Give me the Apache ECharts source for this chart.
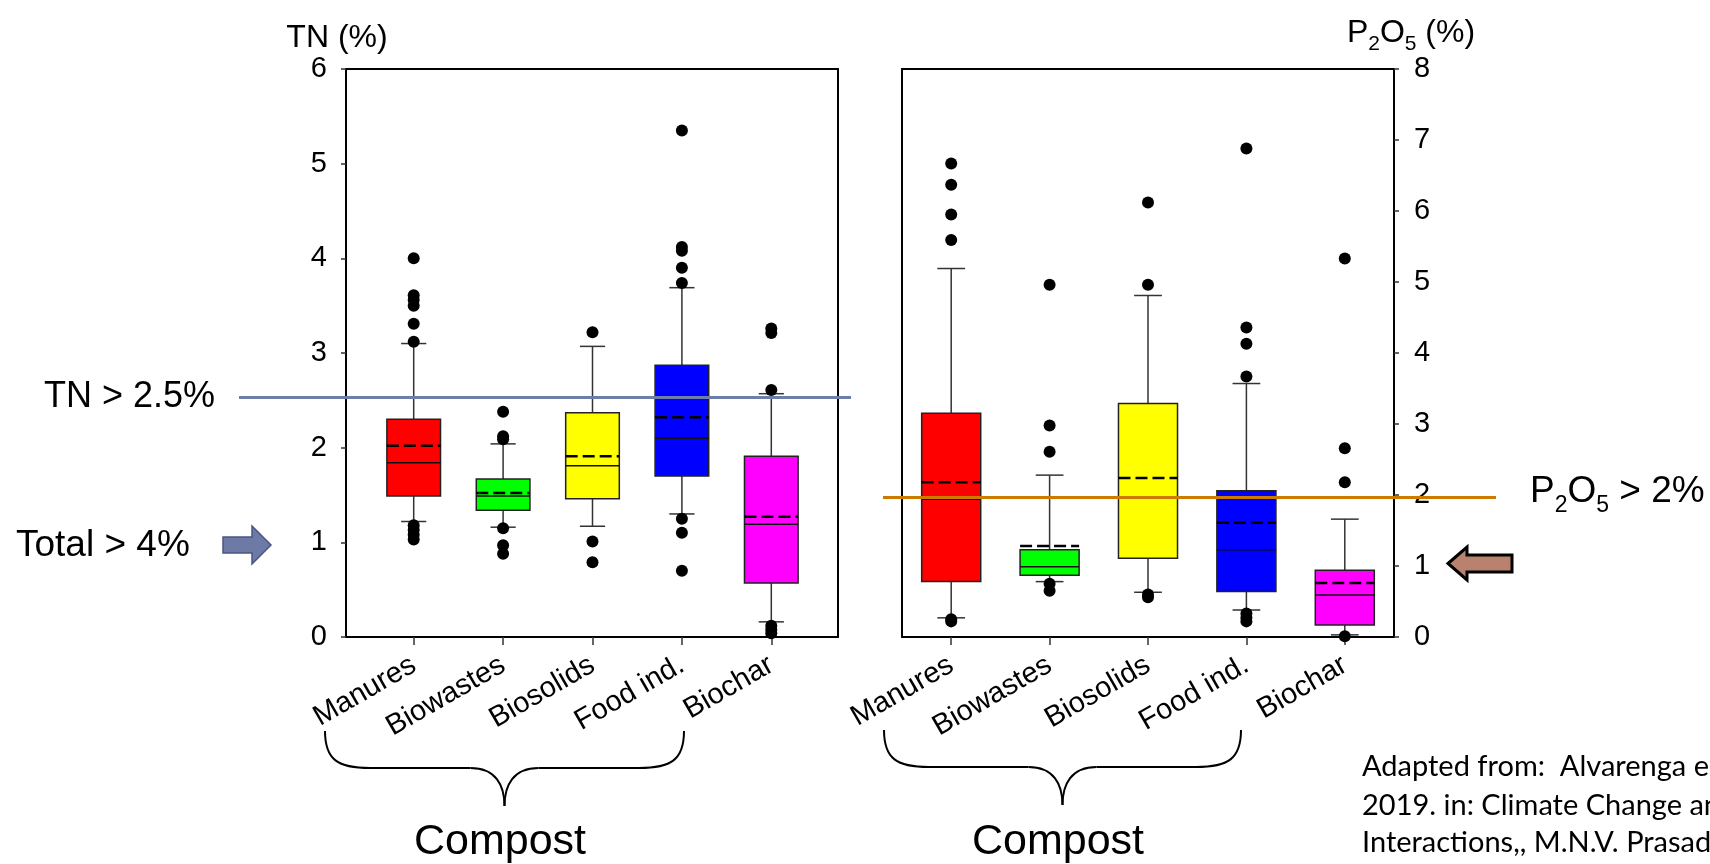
<!DOCTYPE html>
<html>
<head>
<meta charset="utf-8">
<title>TN and P2O5 in composts and biochar</title>
<script src="https://cdn.jsdelivr.net/npm/echarts@6.0.0/dist/echarts.min.js"></script>
<style>
  html, body { margin: 0; padding: 0; background: #fff; }
  #chart { width: 1710px; height: 864px; }
</style>
</head>
<body>
<div id="chart"></div>
<script>
  let categories = ['Manures', 'Biowastes', 'Biosolids', 'Food ind.', 'Biochar'];
  let boxColors = ['#ff0000', '#00ff00', '#ffff00', '#0000ff', '#ff00ff'];

  // TN (%) : whisker ends, quartiles, median, mean
  let tnLow = [1.22, 1.16, 1.17, 1.30, 0.16];
  let tnQ1 = [1.49, 1.34, 1.46, 1.70, 0.57];
  let tnMedian = [1.84, 1.49, 1.81, 2.10, 1.19];
  let tnQ3 = [2.30, 1.67, 2.37, 2.87, 1.91];
  let tnHigh = [3.10, 2.04, 3.07, 3.69, 2.57];
  let tnMean = [2.02, 1.52, 1.91, 2.32, 1.27];
  let tnOutliers = [
    [4.0, 3.61, 3.56, 3.5, 3.31, 3.12, 1.18, 1.13, 1.08, 1.03],
    [2.38, 2.12, 2.09, 1.15, 0.97, 0.88],
    [3.22, 1.01, 0.79],
    [5.35, 4.12, 4.08, 3.9, 3.74, 1.25, 1.1, 0.7],
    [3.26, 3.21, 2.61, 0.12, 0.08, 0.04]
  ];
  let tnThreshold = 2.53;

  // P2O5 (%)
  let pLow = [0.27, 0.78, 0.63, 0.38, 0.03];
  let pQ1 = [0.78, 0.87, 1.11, 0.64, 0.17];
  let pMedian = [1.94, 0.99, 1.97, 1.23, 0.59];
  let pQ3 = [3.15, 1.23, 3.29, 2.06, 0.94];
  let pHigh = [5.19, 2.28, 4.81, 3.57, 1.66];
  let pMean = [2.18, 1.28, 2.24, 1.61, 0.76];
  let pOutliers = [
    [6.67, 6.37, 5.95, 5.59, 0.25, 0.22],
    [4.96, 2.98, 2.61, 0.75, 0.65],
    [6.12, 4.96, 0.60, 0.56],
    [6.88, 4.36, 4.13, 3.67, 0.33, 0.27, 0.22],
    [5.33, 2.66, 2.18, 0.01]
  ];
  let pThreshold = 1.97;

  let tnTicks = [0, 6, 1];   // min, max, step
  let pTicks = [0, 8, 1];

  let font = '"Liberation Sans", Arial, sans-serif';

  function boxRows(low, q1, med, q3, high, mean) {
    return categories.map((c, i) => [i, low[i], q1[i], med[i], q3[i], high[i], mean[i]]);
  }
  function outlierPoints(list) {
    let pts = [];
    list.forEach((vals, i) => vals.forEach((v) => pts.push([i, v])));
    return pts;
  }

  // box + whiskers + median + dashed mean
  function renderBox(params, api) {
    let idx = api.value(0);
    let low = api.coord([idx, api.value(1)]);
    let q1 = api.coord([idx, api.value(2)]);
    let med = api.coord([idx, api.value(3)]);
    let q3 = api.coord([idx, api.value(4)]);
    let high = api.coord([idx, api.value(5)]);
    let mean = api.coord([idx, api.value(6)]);
    let band = api.size([1, 0])[0];
    let half = band * 0.3;
    let cap = half * 0.47;
    let cx = low[0];
    let thin = { stroke: '#333', lineWidth: 1.5 };
    return {
      type: 'group',
      children: [
        { type: 'line', shape: { x1: cx, y1: q3[1], x2: cx, y2: high[1] }, style: thin },
        { type: 'line', shape: { x1: cx, y1: q1[1], x2: cx, y2: low[1] }, style: thin },
        { type: 'line', shape: { x1: cx - cap, y1: high[1], x2: cx + cap, y2: high[1] }, style: thin },
        { type: 'line', shape: { x1: cx - cap, y1: low[1], x2: cx + cap, y2: low[1] }, style: thin },
        { type: 'rect', shape: { x: cx - half, y: q3[1], width: half * 2, height: q1[1] - q3[1] },
          style: { fill: boxColors[params.dataIndex], stroke: '#222', lineWidth: 1.5 } },
        { type: 'line', shape: { x1: cx - half, y1: med[1], x2: cx + half, y2: med[1] },
          style: { stroke: '#111', lineWidth: 1.5 } },
        { type: 'line', shape: { x1: cx - half, y1: mean[1], x2: cx + half, y2: mean[1] },
          style: { stroke: '#000', lineWidth: 2.5, lineDash: [12, 5] } }
      ]
    };
  }

  // curly brace under the compost groups
  function brace(x0, x1, yTop, yMid, yTip) {
    let xm = (x0 + x1) / 2;
    let st = { fill: 'none', stroke: '#000', lineWidth: 2 };
    return {
      type: 'group',
      children: [
        { type: 'bezierCurve', shape: { x1: x0, y1: yTop, cpx1: x0, cpy1: yMid - 8, cpx2: x0 + 13, cpy2: yMid, x2: x0 + 45, y2: yMid }, style: st },
        { type: 'line', shape: { x1: x0 + 45, y1: yMid, x2: xm - 34, y2: yMid }, style: st },
        { type: 'bezierCurve', shape: { x1: xm - 34, y1: yMid, cpx1: xm - 9, cpy1: yMid, cpx2: xm, cpy2: yMid + 17, x2: xm, y2: yTip }, style: st },
        { type: 'bezierCurve', shape: { x1: xm, y1: yTip, cpx1: xm, cpy1: yMid + 17, cpx2: xm + 9, cpy2: yMid, x2: xm + 34, y2: yMid }, style: st },
        { type: 'line', shape: { x1: xm + 34, y1: yMid, x2: x1 - 45, y2: yMid }, style: st },
        { type: 'bezierCurve', shape: { x1: x1 - 45, y1: yMid, cpx1: x1 - 13, cpy1: yMid, cpx2: x1, cpy2: yMid - 8, x2: x1, y2: yTop }, style: st }
      ]
    };
  }

  let myChart = echarts.init(document.getElementById('chart'), null, { renderer: 'canvas' });

  let frameLine = { show: true, onZero: false, lineStyle: { color: '#000', width: 2 } };
  let noTick = { show: false };
  let noLabel = { show: false };
  let noSplit = { show: false };
  let gridBase = { top: 69, height: 568, containLabel: false, outerBoundsMode: 'none' };
  let catLabel = { rotate: 30, margin: 26, fontSize: 29, color: '#000', fontFamily: font, interval: 0 };
  let catTick = { show: true, alignWithLabel: true, length: 8, lineStyle: { color: '#333', width: 1.5 } };
  let valTick = { show: true, length: 5, lineStyle: { color: '#333', width: 1.5 } };

  let option = {
    animation: false,
    backgroundColor: '#fff',
    grid: [
      Object.assign({ left: 346, width: 492 }, gridBase),   // left frame
      Object.assign({ left: 369, width: 447 }, gridBase),   // left boxes
      Object.assign({ left: 902, width: 492 }, gridBase),   // right panel
      Object.assign({ left: 239, width: 612 }, gridBase),   // TN threshold line
      Object.assign({ left: 883, width: 613 }, gridBase)    // P2O5 threshold line
    ],
    xAxis: [
      { gridIndex: 0, type: 'value', position: 'bottom', min: 0, max: 1, axisLine: frameLine, axisTick: noTick, axisLabel: noLabel, splitLine: noSplit },
      { gridIndex: 0, type: 'value', position: 'top', min: 0, max: 1, axisLine: frameLine, axisTick: noTick, axisLabel: noLabel, splitLine: noSplit },
      {
        gridIndex: 1, type: 'category', data: categories, position: 'bottom',
        axisLine: { show: false, onZero: false }, axisTick: catTick, axisLabel: catLabel, splitLine: noSplit
      },
      {
        gridIndex: 2, type: 'category', data: categories, position: 'bottom',
        axisLine: frameLine, axisTick: catTick, axisLabel: catLabel, splitLine: noSplit
      },
      { gridIndex: 2, type: 'category', position: 'top', data: categories, axisLine: frameLine, axisTick: noTick, axisLabel: noLabel, splitLine: noSplit },
      { gridIndex: 3, type: 'value', min: 0, max: 1, show: false },
      { gridIndex: 4, type: 'value', min: 0, max: 1, show: false }
    ],
    yAxis: [
      {
        gridIndex: 0, type: 'value', position: 'left', min: tnTicks[0], max: tnTicks[1], interval: tnTicks[2],
        name: 'TN (%)', nameLocation: 'end', nameGap: 10,
        nameTextStyle: { fontSize: 32, color: '#000', fontFamily: font, align: 'center', padding: [0, 18, 0, 0] },
        axisLine: frameLine, axisTick: valTick,
        axisLabel: { margin: 19, fontSize: 29, color: '#000', fontFamily: font },
        splitLine: noSplit
      },
      { gridIndex: 0, type: 'value', position: 'right', min: tnTicks[0], max: tnTicks[1], interval: tnTicks[2],
        axisLine: frameLine, axisTick: noTick, axisLabel: noLabel, splitLine: noSplit },
      { gridIndex: 1, type: 'value', min: tnTicks[0], max: tnTicks[1], show: false, splitLine: noSplit },
      {
        gridIndex: 2, type: 'value', position: 'right', min: pTicks[0], max: pTicks[1], interval: pTicks[2],
        name: 'P{s|2}O{s|5} (%)', nameLocation: 'end', nameGap: 10,
        nameTextStyle: {
          fontSize: 32, lineHeight: 42, color: '#000', fontFamily: font, align: 'center', padding: [0, 0, 0, 34],
          rich: { s: { fontSize: 21, lineHeight: 21, verticalAlign: 'bottom', fontFamily: font, color: '#000' } }
        },
        axisLine: frameLine, axisTick: valTick,
        axisLabel: { margin: 20, fontSize: 29, color: '#000', fontFamily: font },
        splitLine: noSplit
      },
      { gridIndex: 2, type: 'value', position: 'left', min: pTicks[0], max: pTicks[1], interval: pTicks[2],
        axisLine: frameLine, axisTick: noTick, axisLabel: noLabel, splitLine: noSplit },
      { gridIndex: 3, type: 'value', min: tnTicks[0], max: tnTicks[1], show: false },
      { gridIndex: 4, type: 'value', min: pTicks[0], max: pTicks[1], show: false }
    ],
    series: [
      {
        name: 'TN', type: 'custom', xAxisIndex: 2, yAxisIndex: 2, z: 2,
        renderItem: renderBox, encode: { x: 0, y: [1, 2, 3, 4, 5, 6] },
        data: boxRows(tnLow, tnQ1, tnMedian, tnQ3, tnHigh, tnMean)
      },
      {
        name: 'TN outliers', type: 'scatter', xAxisIndex: 2, yAxisIndex: 2, z: 3,
        symbol: 'circle', symbolSize: 12, itemStyle: { color: '#000', opacity: 1 },
        data: outlierPoints(tnOutliers)
      },
      {
        name: 'P2O5', type: 'custom', xAxisIndex: 3, yAxisIndex: 3, z: 2,
        renderItem: renderBox, encode: { x: 0, y: [1, 2, 3, 4, 5, 6] },
        data: boxRows(pLow, pQ1, pMedian, pQ3, pHigh, pMean)
      },
      {
        name: 'P2O5 outliers', type: 'scatter', xAxisIndex: 3, yAxisIndex: 3, z: 3,
        symbol: 'circle', symbolSize: 12, itemStyle: { color: '#000', opacity: 1 },
        data: outlierPoints(pOutliers)
      },
      {
        name: 'TN limit', type: 'line', xAxisIndex: 5, yAxisIndex: 5, z: 4, data: [],
        markLine: {
          silent: true, symbol: ['none', 'none'],
          lineStyle: { color: '#6f7ea9', width: 3, type: 'solid' },
          label: { position: 'start', distance: 24, formatter: 'TN > 2.5%', fontSize: 36, color: '#000', fontFamily: font },
          data: [{ yAxis: tnThreshold }]
        }
      },
      {
        name: 'P2O5 limit', type: 'line', xAxisIndex: 6, yAxisIndex: 6, z: 4, data: [],
        markLine: {
          silent: true, symbol: ['none', 'none'],
          lineStyle: { color: '#cc7a00', width: 3, type: 'solid' },
          label: {
            position: 'end', distance: 34, formatter: 'P{s|2}O{s|5} > 2%', fontSize: 37, lineHeight: 50,
            color: '#000', fontFamily: font, offset: [0, -5],
            rich: { s: { fontSize: 23, lineHeight: 23, verticalAlign: 'bottom', color: '#000', fontFamily: font } }
          },
          data: [{ yAxis: pThreshold }]
        }
      }
    ],
    graphic: [
      { // arrow pointing at the TN axis
        type: 'polygon',
        shape: { points: [[223, 537], [252, 537], [252, 526], [271, 545], [252, 564], [252, 553], [223, 553]] },
        style: { fill: '#6d7aa5', stroke: '#4a5582', lineWidth: 1.5 }
      },
      { type: 'text', x: 16, y: 546, style: { text: 'Total > 4%', font: '37px ' + font, fill: '#000', align: 'left', verticalAlign: 'middle' } },
      { // arrow pointing at the P2O5 axis
        type: 'polygon',
        shape: { points: [[1448, 563.5], [1467, 547], [1467, 555], [1512, 555], [1512, 572], [1467, 572], [1467, 580]] },
        style: { fill: '#b9826f', stroke: '#000', lineWidth: 3 }
      },
      brace(325, 684, 731, 768, 806),
      brace(884, 1241, 730, 767, 805),
      { type: 'text', x: 500, y: 842, style: { text: 'Compost', font: '43px ' + font, fill: '#000', align: 'center', verticalAlign: 'middle' } },
      { type: 'text', x: 1058, y: 842, style: { text: 'Compost', font: '43px ' + font, fill: '#000', align: 'center', verticalAlign: 'middle' } },
      { type: 'text', x: 1362, y: 767, style: { text: 'Adapted from:  Alvarenga e', font: '29px Lato, sans-serif', fill: '#000', align: 'left', verticalAlign: 'middle' } },
      { type: 'text', x: 1362, y: 806, style: { text: '2019. in: Climate Change an', font: '29px Lato, sans-serif', fill: '#000', align: 'left', verticalAlign: 'middle' } },
      { type: 'text', x: 1362, y: 843, style: { text: 'Interactions,, M.N.V. Prasad', font: '29px Lato, sans-serif', fill: '#000', align: 'left', verticalAlign: 'middle' } }
    ]
  };

  myChart.setOption(option);
</script>
</body>
</html>
